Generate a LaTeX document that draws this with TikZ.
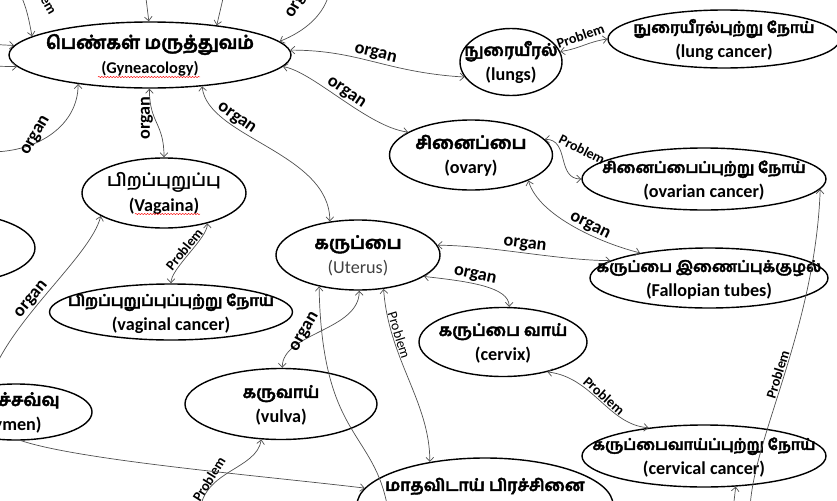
\documentclass[tikz,border=0pt]{standalone}
\usepackage{fontspec}
\setmainfont{Carlito}
\newfontfamily\tamilfont[Script=Tamil,FakeBold=2.4]{Hind Madurai}
\newfontfamily\tamillight[Script=Tamil]{Hind Madurai}
\usetikzlibrary{arrows.meta,shapes.geometric,decorations.pathmorphing}
\definecolor{linkgrey}{HTML}{505050}
\newcommand{\tam}[2][15]{{\tamilfont\fontsize{#1}{#1}\selectfont #2}}
% two lines set in a box of no size, so the ellipse keeps its given size
\newcommand{\twoline}[2]{\smash{\makebox[0pt]{\raisebox{-4.7pt}{%
  \begin{tabular}{@{}c@{}}#1\\#2\end{tabular}}}}}

\begin{document}
\begin{tikzpicture}[x=0.03cm,y=-0.03cm,
every node/.style={font=\bfseries},
concept/.style={ellipse,draw=black,line width=1.2pt,inner sep=0pt,
  font=\bfseries\fontsize{15.5}{21}\selectfont},
link/.style={draw=linkgrey,line width=.6pt,>={Straight Barb[length=3.5pt,width=6.5pt]}},
lbl/.style={font=\bfseries\fontsize{15.5}{16}\selectfont,inner sep=1pt},
plbl/.style={font=\bfseries\fontsize{12}{13}\selectfont,inner sep=1pt},
spell/.style={draw=red,line width=.4pt,decorate,decoration={snake,amplitude=.5pt,segment length=2.5pt}}
]
\useasboundingbox (0,0) rectangle (837,500);
\clip (0,0) rectangle (837,500);

% concepts
\node[concept,minimum width=8.46cm,minimum height=1.98cm] (gyne) at (150,55)
  {\twoline{\tam[15.5]{பெண்கள் மருத்துவம்}}{\fontsize{14}{21}\selectfont(Gyneacology)}};
\node[concept,minimum width=3.06cm,minimum height=2.01cm] (lungs) at (511,62)
  {\twoline{\tam[14]{நுரையீரல்}}{(lungs)}};
\node[concept,minimum width=6.96cm,minimum height=1.74cm] (lungcancer) at (724,39)
  {\twoline{\tam[13]{நுரையீரல்புற்று நோய்}}{(lung cancer)}};
\node[concept,minimum width=4.89cm,minimum height=2.1cm] (ovary) at (471,155)
  {\twoline{\tam{சினைப்பை}}{(ovary)}};
\node[concept,minimum width=7.32cm,minimum height=1.86cm] (ovcancer) at (704,179)
  {\twoline{\tam[13]{சினைப்பைப்புற்று நோய்}}{(ovarian cancer)}};
\node[concept,minimum width=4.92cm,minimum height=2.1cm] (vagaina) at (164,193)
  {\twoline{{\tamillight\fontsize{15}{15}\selectfont பிறப்புறுப்பு}}{(Vagaina)}};
\node[concept,minimum width=4.92cm,minimum height=2.1cm] (uterus) at (358,255)
  {\twoline{\tam{கருப்பை}}{\mdseries\color{black!75}(Uterus)}};
\node[concept,minimum width=7.14cm,minimum height=1.8cm] (fallopian) at (709,278)
  {\twoline{\tam[13]{கருப்பை இணைப்புக்குழல்}}{(Fallopian tubes)}};
\node[concept,minimum width=7.29cm,minimum height=1.68cm] (vagcancer) at (171,312)
  {\twoline{\tam[13]{பிறப்புறுப்புப்புற்று நோய்}}{(vaginal cancer)}};
\node[concept,minimum width=5.04cm,minimum height=2.07cm] (cervix) at (503,342)
  {\twoline{\tam[14]{கருப்பை வாய்}}{(cervix)}};
\node[concept,minimum width=5.76cm,minimum height=2.13cm] (vulva) at (281,404)
  {\twoline{\tam[14]{கருவாய்}}{(vulva)}};
\node[concept,minimum width=4.56cm,minimum height=1.68cm] (hymen) at (16,412)
  {\twoline{\hspace*{-30pt}\tam[15]{கன்னிச்சவ்வு}}{\hspace*{-10pt}(hymen)}};
\node[concept,minimum width=5.1cm,minimum height=2.1cm] (leftmid) at (-50,248) {};
\node[concept,minimum width=7.68cm,minimum height=2.82cm] (menstrual) at (485,505)
  {\smash{\makebox[0pt]{\raisebox{12pt}{\tam[14]{மாதவிடாய் பிரச்சினை}}}}};
\node[concept,minimum width=7.32cm,minimum height=1.86cm] (cervcancer) at (704,456)
  {\twoline{\tam[13]{கருப்பைவாய்ப்புற்று நோய்}}{(cervical cancer)}};

% spelling marks
\draw[spell] ([shift={(-52,22)}]gyne.center) -- ([shift={(50,22)}]gyne.center);
\draw[spell] ([shift={(-29,21)}]vagaina.center) -- ([shift={(36,21)}]vagaina.center);

% loose ends
\coordinate (intop1) at (145,-10);
\coordinate (intop2) at (225,-10);
\coordinate (intopl) at (5,-25);
\coordinate (intopr) at (330,-10);
\coordinate (inleft1) at (-15,44);
\coordinate (inleft2) at (-15,66);
\coordinate (inleft3) at (-10,152);
\coordinate (inleft4) at (-10,380);
\coordinate (outbot1) at (388,510);
\coordinate (outbot2) at (750,510);
\coordinate (outbot3) at (733,510);
\coordinate (outbot4) at (200,510);

% links
\draw[link,->] (intop1) -- (gyne.92);
\draw[link,->] (intop2) -- (gyne.24);
\draw[link,->] (intopl) .. controls +(20,15) and +(-3,-15) .. (gyne.171);
\node[plbl,rotate=-60,anchor=base east] (probtl) at (50,17) {Problem};
\draw[link,->] (inleft1) -- (gyne.176);
\draw[link,->] (inleft2) -- (gyne.-175);
\draw[link,->] (intopr) .. controls +(-5,25) and +(25,-10) .. (gyne.6);
\node[lbl,rotate=60,anchor=base west] (orgtr) at (292,20) {organ};
\draw[link,<->] (gyne.2) .. controls +(70,0) and +(-80,-5) .. (lungs.198)
  node[lbl,midway,sloped,above] {organ};
\draw[link,<->] (gyne.-5) .. controls +(30,5) and +(-40,-5) .. (ovary.160)
  node[lbl,midway,sloped,above] {organ};
\draw[link,<->] (gyne.-31) .. controls +(5,51) and +(0,-69) .. (uterus.130)
  node[lbl,pos=.3,sloped,above] {organ};
\draw[link,<->] (gyne.-91) .. controls +(0,35) and +(0,-35) .. (vagaina.north)
  node[lbl,pos=.4,rotate=90,anchor=south] {organ};
\draw[link,->] (inleft3) .. controls +(50,0) and +(0,40) .. (gyne.-158)
  node[lbl,pos=.4,rotate=60,anchor=south] {organ};
\draw[link,<->] (lungs.12) .. controls +(20,-3) and +(-20,3) .. (lungcancer.west)
  node[plbl,midway,sloped,above=3pt] {Problem};
\draw[link,<->] (ovary.12) .. controls +(25,0) and +(-25,0) .. (ovcancer.west)
  node[plbl,pos=.2,rotate=-27,anchor=south west] {Problem};
\draw[link,<->] (ovary.-24) .. controls +(10,35) and +(-40,-10) .. (fallopian.160)
  node[lbl,pos=.6,sloped,above] {organ};
\draw[link,<->] (vagaina.-35) .. controls +(0,15) and +(0,-15) .. (vagcancer.north)
  node[plbl,midway,sloped,above] {Problem};
\draw[link,->] (inleft4) .. controls +(20,-60) and +(-10,40) .. (vagaina.-160)
  node[lbl,pos=.42,sloped,above] {organ};
\draw[link,<->] (uterus.7) .. controls +(50,0) and +(-50,0) .. (fallopian.170)
  node[lbl,midway,sloped,above] {organ};
\draw[link,<->] (uterus.-18) .. controls +(45,5) and +(0,-20) .. (cervix.80)
  node[lbl,pos=.4,sloped,above] {organ};
\draw[link,<->] (vulva.88) .. controls +(0,-35) and +(0,40) .. (uterus.-88)
  node[lbl,pos=.42,rotate=60,anchor=south] {organ};
\draw[link,<-] (uterus.-141) .. controls (322,440) and (375,430) .. (outbot1);
\draw[link,<->] (uterus.-53) .. controls +(5,70) and +(0,-60) .. (menstrual.142)
  node[plbl,pos=.25,sloped,above] {\mdseries Problem};
\draw[link,->] (outbot2) .. controls (752,440) and (815,330) .. (ovcancer.-5)
  node[plbl,midway,sloped,above] {Problem};
\draw[link,<->] (cervix.-34) .. controls +(45,5) and +(-40,-3) .. (cervcancer.153)
  node[plbl,midway,sloped,above] {Problem};
\draw[link,->] (outbot3) -- (cervcancer.-44);
\draw[link,->] (outbot4) .. controls +(5,-40) and +(-5,30) .. (vulva.-119)
  node[plbl,pos=.3,rotate=58,anchor=south] {Problem};
\draw[link,->] (hymen.-80) .. controls +(60,20) and +(-100,-12) .. (menstrual.172);
\end{tikzpicture}
\end{document}
